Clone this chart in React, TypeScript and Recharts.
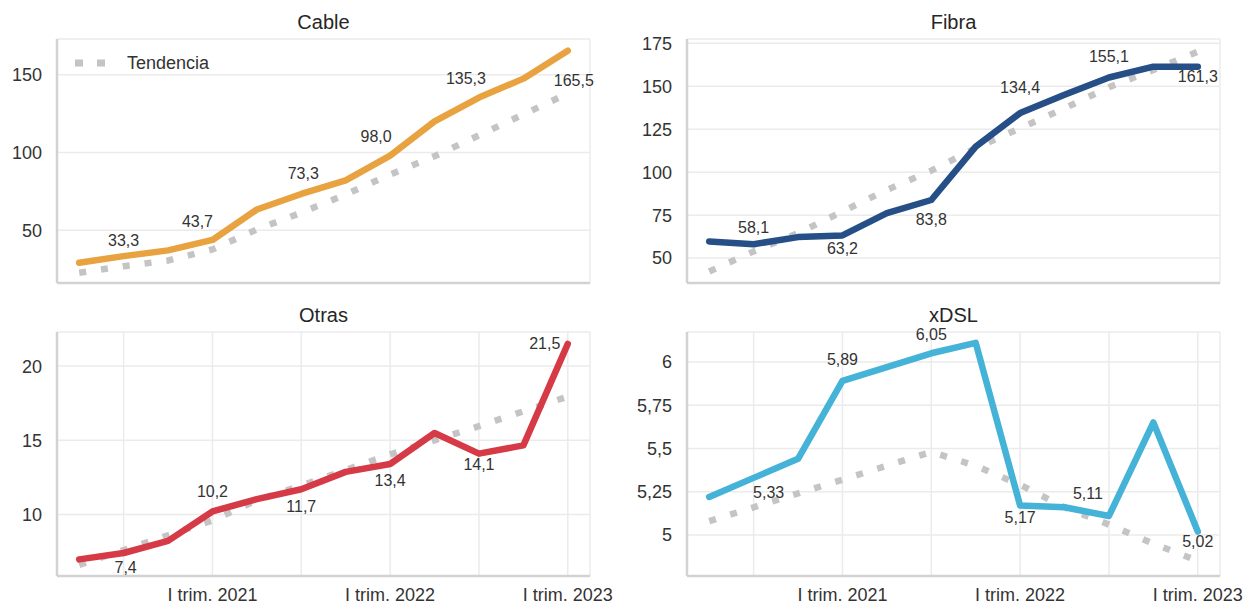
import { LineChart, Line, XAxis, YAxis, CartesianGrid, LabelList } from "recharts";

// quarters, Q2 2020 .. Q1 2023
const quarters = [
  "II trim. 2020", "III trim. 2020", "IV trim. 2020",
  "I trim. 2021", "II trim. 2021", "III trim. 2021", "IV trim. 2021",
  "I trim. 2022", "II trim. 2022", "III trim. 2022", "IV trim. 2022",
  "I trim. 2023",
];

const cable = [29.0, 33.3, 37.0, 43.7, 63.3, 73.3, 82.0, 98.0, 120.0, 135.3, 147.5, 165.5];
const cableTrend = [22.6, 26.8, 30.5, 37.6, 50.5, 61.2, 73.0, 85.8, 97.6, 111.0, 124.5, 138.0];

const fibra = [59.7, 58.1, 62.2, 63.2, 76.2, 83.8, 114.9, 134.4, 145.0, 155.1, 161.4, 161.3];
const fibraTrend = [42.2, 53.9, 64.5, 77.1, 89.7, 100.9, 114.0, 125.6, 137.2, 149.4, 159.5, 170.1];

const otras = [6.97, 7.4, 8.22, 10.2, 11.03, 11.7, 12.87, 13.4, 15.49, 14.1, 14.66, 21.5];
const otrasTrend = [6.6, 7.6, 8.6, 9.6, 10.95, 11.95, 13.0, 14.05, 15.0, 15.95, 16.95, 17.95];

const xdsl = [5.22, 5.33, 5.44, 5.89, 5.97, 6.05, 6.11, 5.17, 5.16, 5.11, 5.65, 5.02];
const xdslTrend = [5.08, 5.16, 5.24, 5.32, 5.4, 5.48, 5.4, 5.29, 5.16, 5.06, 4.95, 4.85];

const cableTicks = [50, 100, 150];
const fibraTicks = [50, 75, 100, 125, 150, 175];
const otrasTicks = [10, 15, 20];
const xdslTicks = [5, 5.25, 5.5, 5.75, 6];

// label offsets [dx, dy] from the point, by index
const cableLabels: Record<number, number[]> = { 1: [0, -16], 3: [-15, -18], 5: [2, -20], 7: [-14, -19], 9: [-13, -19], 11: [6, 30] };
const fibraLabels: Record<number, number[]> = { 1: [0, -17], 3: [0, 13], 5: [0, 19], 7: [0, -26], 9: [0, -21], 11: [0, 10] };
const otrasLabels: Record<number, number[]> = { 1: [2, 14], 3: [0, -20], 5: [0, 17], 7: [0, 16], 9: [0, 11], 11: [-23, 0] };
const xdslLabels: Record<number, number[]> = { 1: [15, 15], 3: [0, -21], 5: [0, -19], 7: [0, 12], 9: [-21, -22], 11: [0, 10] };

const FONT = "'Liberation Sans', Arial, sans-serif";
const TREND = "#c4c4c4";
const AXIS = "#d2d2d2";
const GRID = "#ebebeb";

const fmt = (v: number, dec: number) => v.toFixed(dec).replace(".", ",");
const fmtTick = (v: number) => String(v).replace(".", ",");

type PanelProps = {
  title: string;
  values: number[];
  trend: number[];
  color: string;
  left: number;
  top: number;
  height: number;
  domain: number[];
  ticks: number[];
  decimals: number;
  labels: Record<number, number[]>;
  showX: boolean;
};

function Panel(p: PanelProps) {
  const data = quarters.map((q, i) => ({ i, q, v: p.values[i], t: p.trend[i] }));
  const marginTop = p.showX ? 32 : 39;
  return (
    <div style={{ position: "absolute", left: p.left, top: p.top }}>
      <div
        style={{
          position: "absolute",
          left: 57,
          width: 533,
          top: p.showX ? 3 : 10,
          textAlign: "center",
          fontSize: 20,
          lineHeight: "24px",
          color: "#262626",
        }}
      >
        {p.title}
      </div>
      <LineChart
        width={620}
        height={p.height}
        data={data}
        margin={{ top: marginTop, right: 30, bottom: 0, left: 0 }}
      >
        <CartesianGrid stroke={GRID} strokeWidth={1.5} />
        <XAxis
          dataKey="i"
          type="number"
          domain={[-0.5, 11.5]}
          ticks={[1, 3, 5, 7, 9, 11]}
          height={p.showX ? 30 : 17}
          tick={p.showX ? { fontSize: 18, fill: "#333" } : false}
          tickFormatter={(i: number) =>
            p.showX && quarters[i].startsWith("I trim.") ? quarters[i] : ""
          }
          tickLine={false}
          tickSize={0}
          tickMargin={12}
          stroke={AXIS}
          strokeWidth={2.5}
          interval={0}
        />
        <YAxis
          width={57}
          domain={p.domain}
          ticks={p.ticks}
          allowDataOverflow
          tickFormatter={fmtTick}
          tick={{ fontSize: 18, fill: "#333" }}
          tickLine={false}
          tickSize={0}
          tickMargin={15}
          stroke={AXIS}
          strokeWidth={2.5}
        />
        <Line
          dataKey="t"
          stroke={TREND}
          strokeWidth={6.5}
          strokeDasharray="7 15"
          dot={false}
          activeDot={false}
          isAnimationActive={false}
        />
        <Line
          dataKey="v"
          stroke={p.color}
          strokeWidth={6.5}
          strokeLinecap="round"
          strokeLinejoin="round"
          dot={false}
          activeDot={false}
          isAnimationActive={false}
        >
          <LabelList
            dataKey="v"
            content={(lp: any) => {
              const off = p.labels[lp.index];
              if (!off) return null;
              return (
                <text
                  x={lp.x + off[0]}
                  y={lp.y + off[1]}
                  textAnchor="middle"
                  dominantBaseline="central"
                  fontSize={16}
                  fill="#333"
                  fontFamily={FONT}
                >
                  {fmt(lp.value, p.decimals)}
                </text>
              );
            }}
          />
        </Line>
      </LineChart>
    </div>
  );
}

export default function App() {
  return (
    <div
      style={{
        position: "absolute",
        left: 0,
        top: 0,
        width: 1250,
        height: 606,
        background: "#fff",
        fontFamily: FONT,
        overflow: "hidden",
      }}
    >
      <Panel title="Cable" values={cable} trend={cableTrend} color="#E8A23F" left={0} top={0} height={300}
        domain={[16, 173]} ticks={cableTicks} decimals={1} labels={cableLabels} showX={false} />
      <Panel title="Fibra" values={fibra} trend={fibraTrend} color="#254F86" left={630} top={0} height={300}
        domain={[35.5, 177.5]} ticks={fibraTicks} decimals={1} labels={fibraLabels} showX={false} />
      <Panel title="Otras" values={otras} trend={otrasTrend} color="#D53A46" left={0} top={300} height={306}
        domain={[5.85, 22.3]} ticks={otrasTicks} decimals={1} labels={otrasLabels} showX />
      <Panel title="xDSL" values={xdsl} trend={xdslTrend} color="#45B3D8" left={630} top={300} height={306}
        domain={[4.763, 6.173]} ticks={xdslTicks} decimals={2} labels={xdslLabels} showX />
      {/* legend, only in the Cable panel */}
      <div style={{ position: "absolute", left: 72, top: 51, display: "flex", alignItems: "center" }}>
        <svg width={40} height={24}>
          <line x1={3} y1={12} x2={37} y2={12} stroke={TREND} strokeWidth={7} strokeDasharray="8 14" />
        </svg>
        <span style={{ marginLeft: 15, fontSize: 18, color: "#333", lineHeight: "24px" }}>Tendencia</span>
      </div>
    </div>
  );
}
